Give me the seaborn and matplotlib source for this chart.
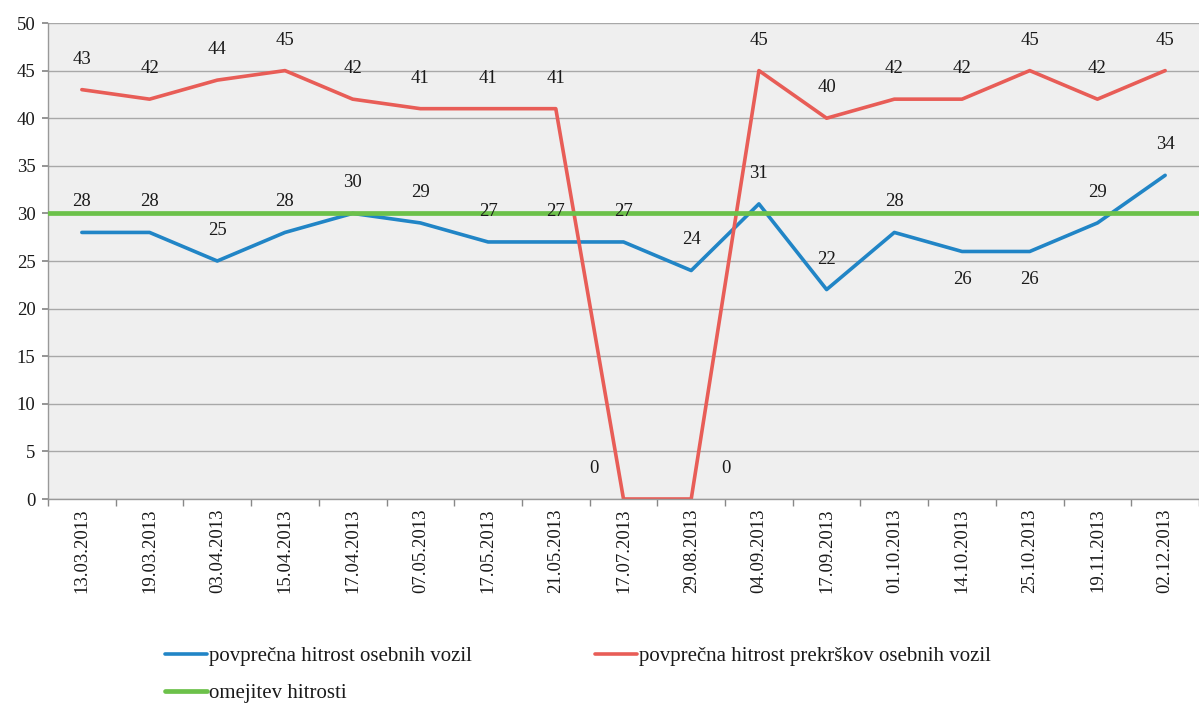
import numpy as np
import pandas as pd
import matplotlib
matplotlib.use("Agg")
import matplotlib.pyplot as plt
import seaborn as sns

dates = ["13.03.2013", "19.03.2013", "03.04.2013", "15.04.2013", "17.04.2013",
         "07.05.2013", "17.05.2013", "21.05.2013", "17.07.2013", "29.08.2013",
         "04.09.2013", "17.09.2013", "01.10.2013", "14.10.2013", "25.10.2013",
         "19.11.2013", "02.12.2013"]
avg_speed = [28, 28, 25, 28, 30, 29, 27, 27, 27, 24, 31, 22, 28, 26, 26, 29, 34]
violation_speed = [43, 42, 44, 45, 42, 41, 41, 41, 0, 0, 45, 40, 42, 42, 45, 42, 45]
speed_limit = [30] * len(dates)

lbl_blue = "povprečna hitrost osebnih vozil"
lbl_red = "povprečna hitrost prekrškov osebnih vozil"
lbl_green = "omejitev hitrosti"

sns.set_theme(style="white")
plt.rcParams['font.family'] = ['Liberation Serif', 'DejaVu Serif']

fig = plt.figure(figsize=(11.99, 7.06), dpi=100)
ax = fig.add_axes([48/1199, (706-499)/706, (1199-48)/1199, (499-23)/706])
ax.set_facecolor("#efefef")

pos = np.arange(len(dates))
df = pd.DataFrame({"pos": pos, "blue": avg_speed, "red": violation_speed, "green": speed_limit})

sns.lineplot(data=df, x="pos", y="blue", color="#2185c6", linewidth=2.6, label=lbl_blue, ax=ax)
sns.lineplot(data=df, x="pos", y="red", color="#e85d57", linewidth=2.6, label=lbl_red, ax=ax)
ax.axhline(speed_limit[0], color="#6cc14a", linewidth=3.4, label=lbl_green, zorder=3)

fs_lbl = 13.5
# data labels
for i, v in enumerate(avg_speed):
    dy = -20 if (i in (13, 14)) else 22
    ax.annotate(str(v), (i, v), xytext=(0, dy), textcoords="offset points",
                ha="center", va="center", fontsize=fs_lbl, color="#1a1a1a")
for i, v in enumerate(violation_speed):
    if v == 0:
        dx = -21 if i == 8 else 25
        ax.annotate(str(v), (i, v), xytext=(dx, 22), textcoords="offset points",
                    ha="center", va="center", fontsize=fs_lbl, color="#1a1a1a")
    else:
        ax.annotate(str(v), (i, v), xytext=(0, 22), textcoords="offset points",
                    ha="center", va="center", fontsize=fs_lbl, color="#1a1a1a")

ax.set_xlim(-0.5, 16.4)
ax.set_ylim(0, 50)
ax.set_yticks(np.arange(0, 51, 5))
ax.set_xticks(pos)
ax.set_xticklabels(dates, rotation=90, fontsize=13.5, color="#1a1a1a")
ax.set_xticks(np.arange(-0.5, 17, 1), minor=True)
ax.tick_params(axis="x", which="major", length=0, pad=7)
ax.tick_params(axis="x", which="minor", length=5, color="#888888", direction="out", bottom=True)
ax.tick_params(axis="y", length=4, color="#888888", direction="out", left=True, labelsize=13.5,
               labelcolor="#1a1a1a", pad=5)
ax.set_xlabel("")
ax.set_ylabel("")

ax.grid(axis="y", color="#a8a8a8", linewidth=1.0)
ax.grid(axis="x", visible=False)
ax.set_axisbelow(True)
for s in ["top", "right"]:
    ax.spines[s].set_visible(False)
ax.spines["left"].set_color("#999999")
ax.spines["bottom"].set_color("#999999")
ax.spines["left"].set_linewidth(1.0)
ax.spines["bottom"].set_linewidth(1.0)

handles, labels = ax.get_legend_handles_labels()
hmap = dict(zip(labels, handles))
order = [lbl_blue, lbl_green, lbl_red]
leg = ax.legend([hmap[l] for l in order], order, ncol=2, loc="upper left",
                bbox_to_anchor=(157/1199, 1 - 638/706), bbox_transform=fig.transFigure,
                frameon=False, fontsize=15, handlelength=2.0, handletextpad=0.12,
                columnspacing=5.9, labelspacing=0.85, borderaxespad=0)
for t in leg.get_texts():
    t.set_color("#1a1a1a")

fig.savefig("out.png", dpi=100, facecolor="white")
